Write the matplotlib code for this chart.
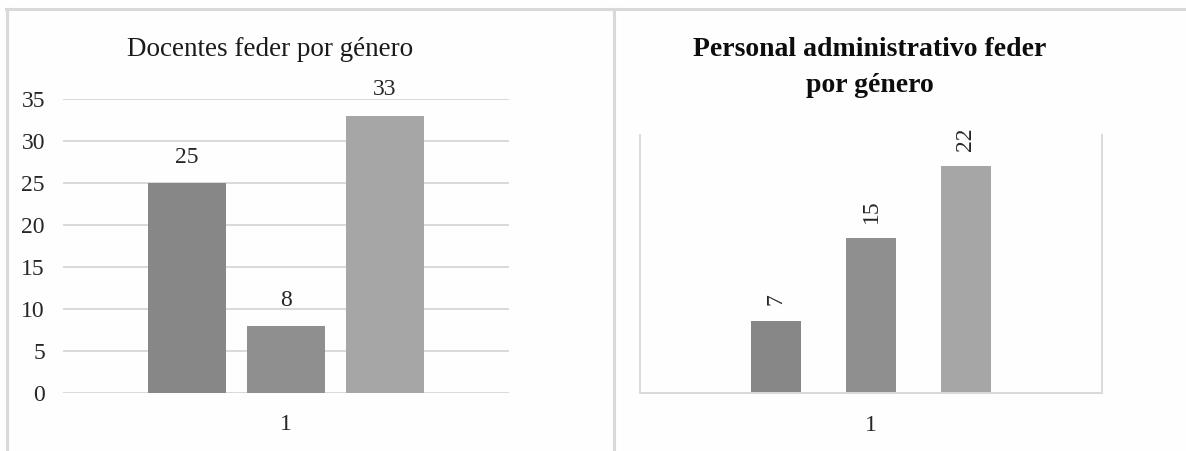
import matplotlib.pyplot as plt
from matplotlib.lines import Line2D

plt.rcParams['font.family'] = ['Liberation Serif', 'DejaVu Serif']

# Docentes feder por género
docentes = [25, 8, 33]
# Personal administrativo feder por género
administrativo = [7, 15, 22]
categoria = ['1']
colores = ['#878787', '#8f8f8f', '#a6a6a6']
grid_color = '#d9d9d9'

W, H = 1186, 451
fig = plt.figure(figsize=(W / 100, H / 100), dpi=100, facecolor='#fefefe')


def box(x0, y0, x1, y1):
    # pixel box (top-left origin) -> figure fraction rect
    return [x0 / W, 1 - y1 / H, (x1 - x0) / W, (y1 - y0) / H]


# panel borders
for xs, ys in [([6 / W, 1], [1 - 9 / H] * 2),
               ([7 / W] * 2, [0, 1 - 9 / H]),
               ([614 / W] * 2, [0, 1 - 9 / H])]:
    fig.add_artist(Line2D(xs, ys, color=grid_color, lw=2.2))

# ---- left chart ----
ax1 = fig.add_axes(box(63, 98.7, 509, 393))
ax1.set_facecolor('none')
w1, step1 = 0.173, 0.222
for i, v in enumerate(docentes):
    xpos = (i - 1) * step1
    ax1.bar(xpos, v, width=w1, color=colores[i], zorder=2)
    ax1.annotate(str(v), (xpos, v), xytext=(0, 18.5), textcoords='offset points',
                 ha='center', va='center', fontsize=17, color='#262626',
                 annotation_clip=False)
ax1.set_xlim(-0.5, 0.5)
ax1.set_ylim(0, 35)
ax1.set_yticks(range(0, 36, 5))
ax1.set_xticks([0])
ax1.set_xticklabels(categoria)
ax1.yaxis.grid(True, color=grid_color, lw=1.4, zorder=0)
ax1.set_axisbelow(True)
for s in ax1.spines.values():
    s.set_visible(False)
ax1.tick_params(axis='both', length=0, labelsize=17, colors='#262626')
ax1.tick_params(axis='y', pad=13)
ax1.tick_params(axis='x', pad=15)
fig.text(270 / W, 1 - 50 / H, 'Docentes feder por género', ha='center', va='center',
         fontsize=19.5, color='#1a1a1a')

# ---- right chart ----
ax2 = fig.add_axes(box(640, 135, 1102, 393))
ax2.set_facecolor('none')
w2, step2 = 0.108, 0.2056
for i, v in enumerate(administrativo):
    xpos = (i - 1) * step2
    ax2.bar(xpos, v, width=w2, color=colores[i], zorder=2)
    ax2.annotate(str(v), (xpos, v), xytext=(0, 11), textcoords='offset points',
                 ha='center', va='bottom', rotation=90, fontsize=17, color='#262626',
                 annotation_clip=False)
ax2.set_xlim(-0.5, 0.5)
ax2.set_ylim(0, 25)
ax2.set_yticks([])
ax2.set_xticks([0])
ax2.set_xticklabels(categoria)
ax2.spines['top'].set_visible(False)
for k in ['left', 'right', 'bottom']:
    ax2.spines[k].set_color(grid_color)
    ax2.spines[k].set_linewidth(1.4)
ax2.tick_params(axis='x', length=0, labelsize=17, colors='#262626', pad=16)
fig.text(870 / W, 1 - 50 / H, 'Personal administrativo feder', ha='center', va='center',
         fontsize=20, fontweight='bold', color='#0d0d0d')
fig.text(870 / W, 1 - 85 / H, 'por género', ha='center', va='center',
         fontsize=20, fontweight='bold', color='#0d0d0d')

plt.savefig('out.png', dpi=100, facecolor=fig.get_facecolor())
